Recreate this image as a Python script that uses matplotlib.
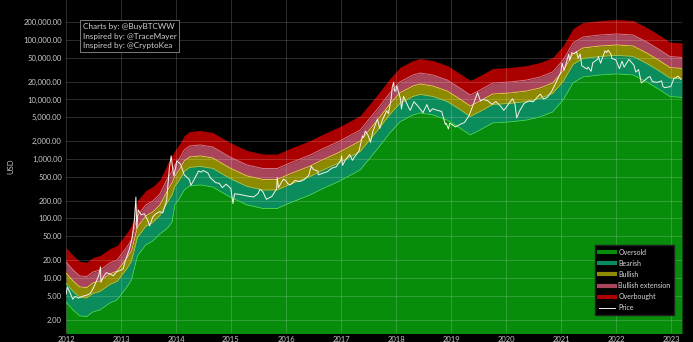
import pandas as pd
import matplotlib
matplotlib.use("Agg")
import matplotlib.pyplot as plt
from matplotlib.lines import Line2D
from matplotlib.ticker import FixedLocator, FuncFormatter

plt.rcParams['font.family'] = ['Lato', 'DejaVu Sans']

# band boundaries (decimal year, USD)
band_t = [2012.00, 2012.13, 2012.25, 2012.38, 2012.49, 2012.62, 2012.80, 2012.93,
          2013.11, 2013.19, 2013.30, 2013.45, 2013.58, 2013.71, 2013.85, 2013.93,
          2013.98, 2014.07, 2014.15, 2014.25, 2014.44, 2014.67, 2014.98, 2015.29,
          2015.58, 2015.84, 2016.07, 2016.44, 2016.62, 2016.98, 2017.35, 2017.65,
          2017.89, 2018.07, 2018.31, 2018.44, 2018.67, 2018.93, 2019.16, 2019.35,
          2019.53, 2019.76, 2020.07, 2020.38, 2020.62, 2020.85, 2021.04, 2021.22,
          2021.40, 2021.71, 2022.02, 2022.31, 2022.56, 2022.80, 2022.98, 2023.20]

oversold_top = [3.95, 2.90, 2.30, 2.25, 2.68, 2.90, 3.80, 4.27,
                7.06, 9.25, 23.4, 35.9, 41.9, 54.9, 69.2, 87.3,
                169, 221, 301, 352, 366, 338, 230, 169,
                147, 147, 182, 248, 301, 427, 653, 1417,
                2735, 4188, 5486, 5930, 5486, 4520, 3319, 2531,
                3070, 4027, 4188, 4520, 5082, 6166, 9817, 18930,
                23880, 25820, 26850, 25820, 19680, 14450, 11220, 10810]

bearish_top = [8.10, 5.95, 4.72, 4.61, 5.49, 5.95, 7.79, 8.75,
               14.5, 19.0, 48.0, 73.6, 85.9, 113, 190, 250,
               346, 453, 617, 722, 750, 693, 472, 346,
               301, 301, 373, 508, 617, 875, 1339, 2905,
               5607, 8585, 11246, 12157, 11246, 9266, 6804, 5189,
               6294, 8255, 8585, 9266, 10418, 12640, 20125, 38807,
               48954, 52931, 55043, 52931, 40344, 29623, 23001, 22161]

bullish_top = [12.1, 8.90, 7.06, 6.91, 8.23, 8.90, 11.7, 13.1,
               21.7, 28.4, 71.8, 110, 129, 169, 300, 400,
               519, 678, 924, 1081, 1124, 1038, 706, 519,
               451, 451, 559, 761, 924, 1311, 2005, 4350,
               8396, 12857, 16842, 18205, 16842, 13876, 10189, 7770,
               9425, 12363, 12857, 13876, 15602, 18930, 30138, 58115,
               73312, 79267, 82430, 79267, 60418, 44362, 34445, 33187]

extension_top = [18.6, 13.6, 10.8, 10.6, 12.6, 13.6, 17.9, 20.1,
                 33.2, 43.5, 110, 169, 197, 258, 480, 620,
                 794, 1039, 1415, 1654, 1720, 1589, 1081, 794,
                 691, 691, 855, 1166, 1415, 2007, 3069, 6660,
                 12855, 19684, 25784, 27871, 25784, 21244, 15599, 11896,
                 14429, 18927, 19684, 21244, 23885, 28980, 46140, 88971,
                 112236, 121354, 126195, 121354, 92496, 67915, 52734, 50807]

overbought_top = [32.5, 23.9, 19.0, 18.5, 22.1, 23.9, 31.3, 35.2,
                  58.2, 76.2, 200, 296, 345, 452, 850, 1150,
                  1393, 1821, 2480, 2900, 3016, 2785, 1895, 1393,
                  1211, 1211, 1500, 2044, 2480, 3518, 5381, 11676,
                  22536, 34509, 45205, 48863, 45205, 37245, 27349, 20855,
                  25297, 33182, 34509, 37245, 41876, 50808, 80892, 155983,
                  196771, 212757, 221244, 212757, 162163, 119068, 92453, 89074]

# BTC price
price_dates = [
    '2012-01-01', '2012-01-10', '2012-01-25', '2012-02-15', '2012-03-01', '2012-03-25',
    '2012-04-15', '2012-05-15', '2012-06-10', '2012-06-30', '2012-07-20', '2012-08-05',
    '2012-08-17', '2012-08-20', '2012-09-05', '2012-09-25', '2012-10-15', '2012-11-10',
    '2012-12-01', '2012-12-25', '2013-01-15', '2013-02-01', '2013-02-25', '2013-03-15',
    '2013-03-31', '2013-04-10', '2013-04-16', '2013-04-25', '2013-05-15', '2013-06-05',
    '2013-06-30', '2013-07-10', '2013-07-31', '2013-08-20', '2013-09-15', '2013-10-05',
    '2013-10-31', '2013-11-18', '2013-11-30', '2013-12-07', '2013-12-18', '2013-12-31',
    '2014-01-06', '2014-01-31', '2014-02-25', '2014-03-31', '2014-04-10', '2014-04-30',
    '2014-05-31', '2014-06-15', '2014-06-30', '2014-07-31', '2014-08-18', '2014-09-22',
    '2014-10-15', '2014-11-05', '2014-11-30', '2014-12-31', '2015-01-14', '2015-01-25',
    '2015-02-28', '2015-03-31', '2015-04-30', '2015-05-31', '2015-06-30', '2015-07-12',
    '2015-07-31', '2015-08-24', '2015-09-30', '2015-10-31', '2015-11-04', '2015-11-12',
    '2015-12-15', '2015-12-31', '2016-01-15', '2016-01-31', '2016-02-29', '2016-03-31',
    '2016-04-30', '2016-05-31', '2016-06-17', '2016-06-30', '2016-07-31', '2016-08-02',
    '2016-08-31', '2016-09-30', '2016-10-31', '2016-11-30', '2016-12-31', '2017-01-05',
    '2017-01-11', '2017-01-31', '2017-02-28', '2017-03-18', '2017-03-31', '2017-04-30',
    '2017-05-24', '2017-05-31', '2017-06-12', '2017-06-30', '2017-07-16', '2017-07-31',
    '2017-08-31', '2017-09-15', '2017-09-30', '2017-10-31', '2017-11-12', '2017-11-30',
    '2017-12-07', '2017-12-17', '2017-12-22', '2017-12-31', '2018-01-06', '2018-01-31',
    '2018-02-06', '2018-02-20', '2018-03-31', '2018-04-06', '2018-04-30', '2018-05-31',
    '2018-06-29', '2018-07-25', '2018-08-14', '2018-08-31', '2018-09-30', '2018-10-31',
    '2018-11-25', '2018-11-30', '2018-12-15', '2018-12-24', '2019-01-31', '2019-02-28',
    '2019-03-31', '2019-04-30', '2019-05-31', '2019-06-26', '2019-07-16', '2019-07-31',
    '2019-08-31', '2019-09-30', '2019-10-26', '2019-11-30', '2019-12-17', '2019-12-31',
    '2020-01-31', '2020-02-13', '2020-02-29', '2020-03-12', '2020-03-31', '2020-04-30',
    '2020-05-31', '2020-06-30', '2020-07-31', '2020-08-17', '2020-09-05', '2020-09-30',
    '2020-10-31', '2020-11-30', '2020-12-31', '2021-01-08', '2021-01-22', '2021-02-21',
    '2021-02-28', '2021-03-13', '2021-03-31', '2021-04-14', '2021-04-25', '2021-05-08',
    '2021-05-19', '2021-06-22', '2021-06-30', '2021-07-20', '2021-07-31', '2021-08-31',
    '2021-09-07', '2021-09-21', '2021-10-20', '2021-10-31', '2021-11-10', '2021-11-30',
    '2021-12-04', '2021-12-31', '2022-01-24', '2022-02-10', '2022-02-24', '2022-03-28',
    '2022-04-30', '2022-05-12', '2022-05-31', '2022-06-18', '2022-06-30', '2022-07-31',
    '2022-08-14', '2022-08-31', '2022-09-30', '2022-10-31', '2022-11-09', '2022-11-21',
    '2022-12-31', '2023-01-21', '2023-01-31', '2023-02-16', '2023-02-28', '2023-03-08']

price_usd = [
    5.3, 7.0, 5.9, 4.4, 4.9, 4.6,
    4.9, 5.1, 5.5, 6.7, 8.8, 10.9,
    15.4, 8.5, 10.5, 12.3, 11.8, 10.9,
    12.6, 13.4, 14.2, 20.4, 30.0, 46,
    93, 230, 68, 140, 115, 120,
    90, 75, 106, 120, 130, 124,
    200, 700, 1130, 800, 520, 740,
    930, 820, 540, 450, 360, 445,
    630, 600, 640, 585, 480, 400,
    390, 330, 378, 320, 178, 260,
    254, 244, 236, 230, 263, 310,
    284, 210, 236, 314, 490, 330,
    460, 430, 380, 368, 437, 416,
    448, 530, 760, 670, 624, 540,
    575, 609, 700, 742, 963, 1130,
    780, 970, 1190, 950, 1080, 1350,
    2450, 2300, 2950, 2480, 1900, 2875,
    4700, 3250, 4340, 6470, 5800, 10200,
    16000, 19500, 13800, 14000, 17100, 10200,
    6900, 11300, 6900, 6600, 9200, 7500,
    6000, 8200, 6200, 7000, 6600, 6300,
    3800, 4000, 3200, 4000, 3450, 3800,
    4100, 5300, 8500, 13000, 9400, 10000,
    9600, 8300, 9250, 7550, 6600, 7200,
    9350, 10300, 8600, 4900, 6400, 8600,
    9450, 9140, 11300, 12300, 10200, 10780,
    13800, 19700, 29000, 40700, 30800, 57500,
    45200, 61000, 58800, 63500, 49000, 58300,
    37000, 32500, 35000, 29800, 41500, 47100,
    52600, 40700, 66000, 61300, 67500, 57000,
    49000, 46300, 33000, 44000, 35000, 47300,
    37700, 28900, 31800, 19000, 19900, 23300,
    24400, 20000, 19400, 20500, 16500, 15800,
    16500, 22700, 23100, 24600, 23100, 21700]

y_ticks = [2, 5, 10, 20, 50, 100, 200, 500, 1000, 2000, 5000,
           10000, 20000, 50000, 100000, 200000]
year_ticks = list(range(2012, 2024))

credits = ["Charts by: @BuyBTCWW", "Inspired by: @TraceMayer", "Inspired by: @CryptoKea"]

d = pd.to_datetime(price_dates)
price_t = d.year + (d.dayofyear - 1) / 365.25

fig = plt.figure(figsize=(6.93, 3.42), dpi=100, facecolor='black')
ax = fig.add_axes([66 / 693, 9 / 342, 616 / 693, 333 / 342])
ax.set_facecolor('black')
ax.set_yscale('log')

floor = 0.5
bands = [
    (floor, oversold_top, '#088c0b', '#3fd83f', 'Oversold'),
    (oversold_top, bearish_top, '#0b8c5c', '#8cc85a', 'Bearish'),
    (bearish_top, bullish_top, '#8e8a00', '#e0cc40', 'Bullish'),
    (bullish_top, extension_top, '#a8455a', '#d6788a', 'Bullish extension'),
    (extension_top, overbought_top, '#aa0000', None, 'Overbought'),
]
handles = []
for lo, hi, fc, lc, name in bands:
    ax.fill_between(band_t, lo, hi, color=fc, lw=0, zorder=1)
    if lc is not None:
        ax.plot(band_t, hi, color=lc, lw=0.7, zorder=3)
    handles.append(Line2D([], [], color=fc, lw=3, label=name))

ax.plot(price_t, price_usd, color='#f4f4ea', lw=0.7, zorder=4)
handles.append(Line2D([], [], color='#f4f4ea', lw=0.7, label='Price'))

ax.set_xlim(2012.0, 2023.2)
ax.set_ylim(1.19, 4.7e5)

ax.xaxis.set_major_locator(FixedLocator(year_ticks))
ax.xaxis.set_major_formatter(FuncFormatter(lambda v, p: f"{int(v)}"))
ax.yaxis.set_major_locator(FixedLocator(y_ticks))
ax.yaxis.set_minor_locator(FixedLocator([]))
ax.yaxis.set_major_formatter(FuncFormatter(lambda v, p: f"{v:,.2f}"))

ax.tick_params(colors='#c8c8c8', labelsize=5.5, length=0, pad=3)
ax.tick_params(axis='x', pad=2)
for s in ax.spines.values():
    s.set_visible(False)

ax.set_axisbelow(False)
ax.grid(True, color='white', alpha=0.2, lw=0.6)

ax.set_ylabel("USD", color='#c8c8c8', fontsize=5.5, labelpad=6)

ax.text(0.027, 0.93, "\n".join(credits), transform=ax.transAxes, ha='left', va='top',
        color='#d0d0d0', fontsize=5.9, linespacing=1.4, zorder=6,
        bbox=dict(boxstyle='square,pad=0.35', fc='black', ec='#7a7a7a', lw=0.7))

leg = ax.legend(handles=handles, loc='upper left', bbox_to_anchor=(0.859, 0.264),
                borderaxespad=0, fontsize=5, frameon=True, facecolor='black',
                edgecolor='#202020', framealpha=1, fancybox=False,
                handlelength=2.3, handletextpad=0.55, labelspacing=0.6,
                borderpad=0.5, labelcolor='#d8d8d8')
leg.set_zorder(7)

fig.savefig("out.png", dpi=100, facecolor='black')
